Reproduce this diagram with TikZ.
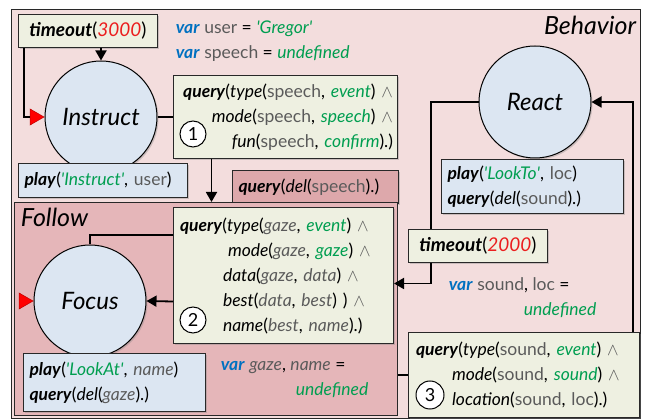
\documentclass[tikz,border=0pt]{standalone}
\usepackage{fontspec}
\setmainfont{Lato}
\usepackage{tikz}
\usetikzlibrary{arrows.meta, positioning, shapes.geometric, shadows}
\definecolor{behaviorpink}{RGB}{243,221,221}
\definecolor{followpink}{RGB}{229,182,185}
\definecolor{exitpink}{RGB}{221,168,171}
\definecolor{querycream}{RGB}{238,240,225}
\definecolor{stateblue}{RGB}{220,230,242}
\definecolor{varblue}{RGB}{0,112,192}
\definecolor{litgreen}{RGB}{0,158,80}
\definecolor{numred}{RGB}{235,30,30}
\definecolor{argray}{RGB}{90,90,90}
\definecolor{edgegray}{RGB}{40,40,40}

\newcommand{\kw}[1]{\textbf{\textit{#1}}}
\newcommand{\fname}[1]{\textit{#1}}
\newcommand{\varg}[1]{\textcolor{argray}{#1}}
\newcommand{\vargi}[1]{\textcolor{argray}{\textit{#1}}}
\newcommand{\lit}[1]{\textcolor{litgreen}{\textit{#1}}}
\newcommand{\tnum}[1]{\textcolor{numred}{\textit{#1}}}
\newcommand{\kvar}{\textcolor{varblue}{\textbf{\textit{var}}}}
\newcommand{\band}{\textcolor{argray}{$\wedge$}}
\newcommand{\quo}{\textquotesingle}
\newcommand{\codefont}{\fontsize{17.5}{25}\selectfont}

\begin{document}
\begin{tikzpicture}[x=1pt, y=-1pt, >={Triangle[length=10pt, width=11pt]}, line width=1.8pt,
    shadowed/.style={drop shadow={shadow xshift=1.5pt, shadow yshift=-1.5pt, opacity=0.35}},
    group/.style={rectangle, draw=edgegray, line width=1pt, anchor=north west, inner sep=0pt},
    state/.style={circle, draw=black, line width=1pt, fill=stateblue, minimum size=112pt, font=\fontsize{24}{28}\selectfont\itshape, shadowed},
    codebox/.style={rectangle, draw=edgegray, line width=1pt, anchor=north west, align=left, inner xsep=6pt, inner ysep=2pt, font=\codefont, shadowed},
    cond/.style={codebox, fill=querycream},
    action/.style={codebox, fill=stateblue},
    timer/.style={codebox, fill=querycream, align=center, font=\fontsize{19}{22}\selectfont},
    stepnum/.style={circle, draw=black, line width=1pt, fill=white, minimum size=26pt, inner sep=0pt, font=\fontsize{18}{18}\selectfont},
    initmark/.style={isosceles triangle, isosceles triangle apex angle=60, fill=red, draw=red!75!black, line width=0.5pt, minimum size=14pt, inner sep=0pt, anchor=apex},
    vartext/.style={anchor=north west, align=left, inner sep=0pt, font=\codefont},
    grouplabel/.style={inner sep=0pt, font=\fontsize{25}{28}\selectfont\itshape}]
  \useasboundingbox (0,0) rectangle (651,419);

  % outer behaviour and the Follow group
  \node[group, fill=behaviorpink, minimum width=629pt, minimum height=409pt] (behavior) at (11,9) {};
  \node[grouplabel, anchor=north east] (behaviorlabel) at (637,15) {Behavior};
  \node[codebox, fill=exitpink, minimum width=166pt, minimum height=33pt, text width=154pt] (delspeech) at (232,170) {\kw{query}(\fname{del}(\varg{speech}).)};
  \node[group, fill=followpink, minimum width=383pt, minimum height=213pt] (follow) at (14,202) {};
  \node[grouplabel, anchor=north west] (followlabel) at (20,207) {Follow};

  % Instruct
  \node[timer, minimum width=139pt, minimum height=33pt] (timeout1) at (18,14) {\kw{timeout}(\tnum{3000})};
  \node[vartext] (uservars) at (175,20) {\kvar\ \varg{user} = \lit{\quo Gregor\quo}\\ \kvar\ \varg{speech} = \lit{undefined}};
  \node[state] (instruct) at (101,117) {Instruct};
  \node[initmark] (instructinit) at (instruct.west) {};
  \node[action, minimum width=169pt, minimum height=34pt, text width=157pt] (play1) at (18,163) {\kw{play}(\lit{\quo Instruct\quo}, \varg{user})};
  \node[cond, align=right, inner xsep=4pt, minimum width=224pt, minimum height=83pt, text width=215pt] (query1) at (173,75)
    {\kw{query}(\fname{type}(\varg{speech}, \lit{event}) \band\\
     \fname{mode}(\varg{speech}, \lit{speech}) \band\\
     \fname{fun}(\varg{speech}, \lit{confirm}).)};
  \node[stepnum] (step1) at (193,134) {1};

  % Focus
  \node[state] (focus) at (90,301) {Focus};
  \node[initmark] (focusinit) at (focus.west) {};
  \node[cond, minimum width=220pt, minimum height=136pt, text width=207pt] (query2) at (173,207)
    {\kw{query}(\fname{type}(\vargi{gaze}, \lit{event}) \band\\
     \hspace*{48pt}\fname{mode}(\vargi{gaze}, \lit{gaze}) \band\\
     \hspace*{43pt}\fname{data}(\vargi{gaze}, \vargi{data}) \band\\
     \hspace*{43pt}\fname{best}(\vargi{data}, \vargi{best}) ) \band\\
     \hspace*{43pt}\fname{name}(\vargi{best}, \vargi{name}).)};
  \node[stepnum] (step2) at (193,320) {2};
  \node[action, minimum width=182pt, minimum height=58pt, text width=170pt] (play3) at (23,353)
    {\kw{play}(\lit{\quo LookAt\quo}, \vargi{name})\\ \kw{query}(\fname{del}(\vargi{gaze}).)};
  \node[vartext] (gazevars) at (220,360) {\kvar\ \vargi{gaze}, \vargi{name} =\\ \hspace*{75pt}\lit{undefined}};

  % React
  \node[state] (react) at (535,102) {React};
  \node[action, minimum width=182pt, minimum height=54pt, text width=170pt] (play2) at (441,159)
    {\kw{play}(\lit{\quo LookTo\quo}, \varg{loc})\\ \kw{query}(\fname{del}(\varg{sound}).)};
  \node[timer, minimum width=139pt, minimum height=33pt] (timeout2) at (408,229) {\kw{timeout}(\tnum{2000})};
  \node[vartext] (soundvars) at (448,277) {\kvar\ \varg{sound}, \varg{loc} =\\ \hspace*{75pt}\lit{undefined}};
  \node[cond, minimum width=231pt, minimum height=85pt, text width=216pt] (query3) at (408,332)
    {\kw{query}(\fname{type}(\varg{sound}, \lit{event}) \band\\
     \hspace*{36pt}\fname{mode}(\varg{sound}, \lit{sound}) \band\\
     \hspace*{36pt}\fname{location}(\varg{sound}, \varg{loc}).)};
  \node[stepnum, minimum size=28pt] (step3) at (430,395) {3};

  % transitions
  \coordinate (t1drop) at ([xshift=-64pt]timeout1.south);
  \coordinate (q1out) at ([xshift=-74pt]query1.south);
  \coordinate (q2loop) at ([yshift=-28pt]query2.north west);
  \coordinate (q2in) at ([yshift=-26pt]query2.west);
  \coordinate (q2back) at ([yshift=-8pt]query2.east);
  \coordinate (t2in) at ([xshift=-47pt]timeout2.north);
  \coordinate (t2out) at ([xshift=-47pt]timeout2.south);
  \coordinate (q3out) at ([xshift=-7pt]query3.north east);

  \draw[->] (timeout1.south -| instruct.north) -- (instruct.north);
  \draw (t1drop) |- (instructinit.west);
  \draw (instruct.east) -- (query1.west);
  \draw[->] (q1out) -- (q1out |- follow.north);
  \draw (q2loop) -| (focus.north);
  \draw[->] (q2in) -- (focus.east);
  \draw (react.west) -| (t2in);
  \draw[->] (t2out) |- (q2back);
  \draw (follow.east |- query3.west) -- (query3.west);
  \draw[->] (q3out) |- (react.east);
\end{tikzpicture}
\end{document}
